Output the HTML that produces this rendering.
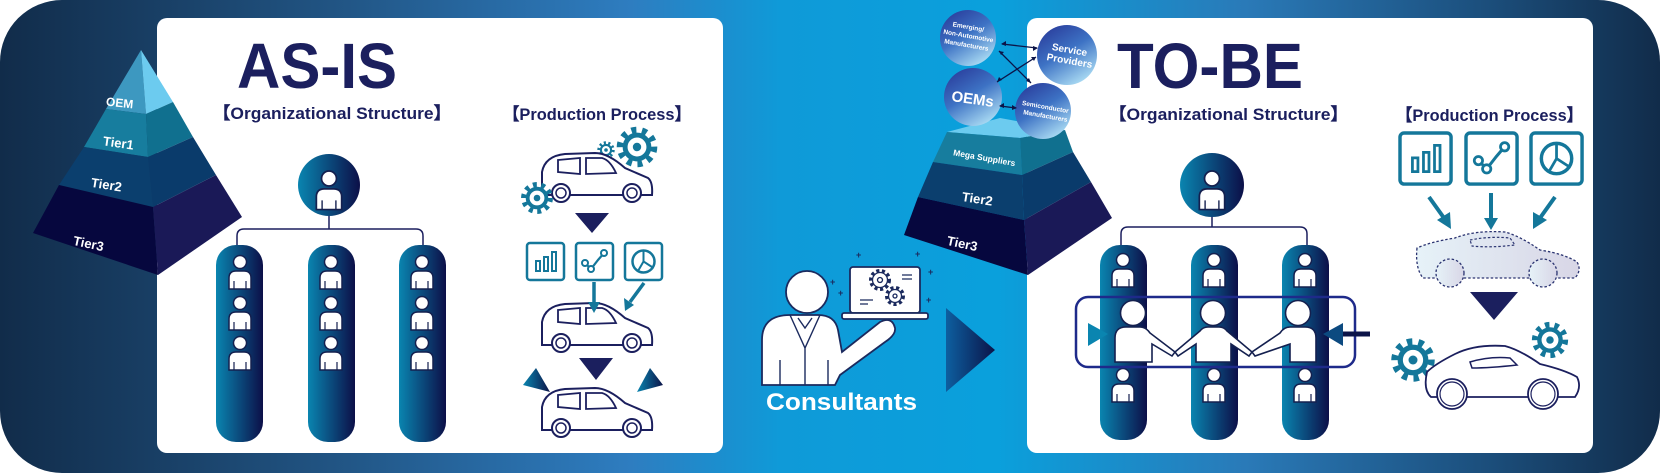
<!DOCTYPE html>
<html><head><meta charset="utf-8"><style>
html,body{margin:0;padding:0;background:#fff;}
svg{display:block;}
text{font-family:"Liberation Sans",sans-serif;font-weight:bold;}
</style></head><body>
<svg width="1660" height="473" viewBox="0 0 1660 473" xmlns="http://www.w3.org/2000/svg">
<defs>
<linearGradient id="bg" x1="0" y1="0" x2="1" y2="0">
<stop offset="0" stop-color="#112c4a"/><stop offset="0.2" stop-color="#215483"/><stop offset="0.38" stop-color="#2e7dc0"/><stop offset="0.47" stop-color="#0f9ad8"/><stop offset="0.6" stop-color="#0aa0dc"/><stop offset="0.75" stop-color="#2a7ab8"/><stop offset="0.9" stop-color="#1b4d7a"/><stop offset="1" stop-color="#112c4a"/>
</linearGradient>
<linearGradient id="col" x1="0" y1="0" x2="1" y2="0"><stop offset="0" stop-color="#0a85b0"/><stop offset="1" stop-color="#0c0f48"/></linearGradient>
<linearGradient id="tri" x1="0" y1="0" x2="1" y2="0"><stop offset="0" stop-color="#0d5fa0"/><stop offset="1" stop-color="#0c1448"/></linearGradient>
<linearGradient id="wedge" x1="0" y1="0" x2="1" y2="0"><stop offset="0" stop-color="#0a85b0"/><stop offset="1" stop-color="#0c1448"/></linearGradient>
<linearGradient id="bub" x1="0.2" y1="0" x2="0.8" y2="1"><stop offset="0" stop-color="#2a3d9c"/><stop offset="0.45" stop-color="#3d72c4"/><stop offset="1" stop-color="#b5e6f8"/></linearGradient>
<linearGradient id="ghost" x1="0" y1="0" x2="1" y2="0"><stop offset="0" stop-color="#e6f2f8"/><stop offset="1" stop-color="#d8d6e6"/></linearGradient>
<g id="p"><circle cx="0" cy="-10" r="6.5" fill="#fff" stroke="#14204f" stroke-width="1.5"/><path d="M-11,17 V6 Q-11,-1 -4,-1 H4 Q11,-1 11,6 V17 Z" fill="#fff" stroke="#14204f" stroke-width="1.5"/><path d="M-6,9 V17 M6,9 V17" stroke="#14204f" stroke-width="1.2"/></g>
<g id="van"><path d="M2,45 L2,22 Q5,6 25,4 L55,3 Q68,3 85,18 L108,28 Q113,32 112,45 Z" fill="#fff" stroke="#1b1f5e" stroke-width="2"/><path d="M18,10 L40,8 L40,24 L18,22 Z M46,8 L62,8 Q70,10 76,23 L46,24 Z" fill="none" stroke="#1b1f5e" stroke-width="1.8"/><circle cx="21" cy="43" r="9" fill="#fff" stroke="#1b1f5e" stroke-width="2"/><circle cx="21" cy="43" r="5" fill="none" stroke="#1b1f5e" stroke-width="1.5"/><circle cx="92" cy="43" r="9" fill="#fff" stroke="#1b1f5e" stroke-width="2"/><circle cx="92" cy="43" r="5" fill="none" stroke="#1b1f5e" stroke-width="1.5"/></g>
<g id="gear"><circle r="12" fill="none" stroke="#14779a" stroke-width="5" stroke-dasharray="3.5 4"/><circle r="8.5" fill="#fff" stroke="#14779a" stroke-width="3.5"/><circle r="3" fill="#14779a"/></g>
<g id="b1"><rect x="0" y="0" width="37" height="37" rx="3" fill="#fff" stroke="#14779a" stroke-width="2.5"/><path d="M9,28 V18 H13 V28 Z M17,28 V14 H21 V28 Z M25,28 V9 H29 V28 Z" fill="none" stroke="#14779a" stroke-width="2"/></g>
<g id="b2"><rect x="0" y="0" width="37" height="37" rx="3" fill="#fff" stroke="#14779a" stroke-width="2.5"/><path d="M9,20 L15,26 L22,17 L28,10" fill="none" stroke="#14779a" stroke-width="2.2"/><circle cx="9" cy="20" r="3" fill="#fff" stroke="#14779a" stroke-width="2"/><circle cx="15" cy="26" r="3" fill="#fff" stroke="#14779a" stroke-width="2"/><circle cx="28" cy="10" r="3" fill="#fff" stroke="#14779a" stroke-width="2"/></g>
<g id="b3"><rect x="0" y="0" width="37" height="37" rx="3" fill="#fff" stroke="#14779a" stroke-width="2.5"/><circle cx="18.5" cy="18.5" r="11" fill="none" stroke="#14779a" stroke-width="2.5"/><path d="M18.5,7.5 V18.5 L27,24 M18.5,18.5 L13,28" fill="none" stroke="#14779a" stroke-width="2"/></g>
</defs>

<rect x="0" y="0" width="1660" height="473" rx="62" fill="url(#bg)"/>
<rect x="157" y="18" width="566" height="435" rx="10" fill="#fff"/>
<rect x="1027" y="18" width="566" height="435" rx="10" fill="#fff"/>

<!-- Left pyramid -->
<polygon points="141,50 106,109 146,114" fill="#3d98c0"/>
<polygon points="141,50 146,114 173,102" fill="#6ccbef"/>
<polygon points="106,109 146,114 148,157 84,147" fill="#177d9e"/>
<polygon points="146,114 173,102 193,137 148,157" fill="#10708f"/>
<polygon points="84,147 148,157 153,207 59,185" fill="#0b3f6e"/>
<polygon points="148,157 193,137 216,175 153,207" fill="#0a3b6b"/>
<polygon points="59,185 153,207 158,275 33,233" fill="#06073e"/>
<polygon points="153,207 216,175 242,217 158,275" fill="#1a1957"/>
<text x="106" y="107" font-size="12" fill="#fff" transform="rotate(6 120 103)">OEM</text>
<text x="103" y="147" font-size="13" fill="#fff" transform="rotate(8 115 143)">Tier1</text>
<text x="91" y="189" font-size="13" fill="#fff" transform="rotate(9 105 185)">Tier2</text>
<text x="73" y="248" font-size="13" fill="#fff" transform="rotate(12 88 244)">Tier3</text>

<!-- AS-IS -->
<text x="237" y="88" font-size="64" fill="#1b1f5e" textLength="160" lengthAdjust="spacingAndGlyphs">AS-IS</text>
<text x="213" y="119" font-size="17" fill="#1b1f5e" textLength="238" lengthAdjust="spacingAndGlyphs">【Organizational Structure】</text>
<text x="503" y="120" font-size="17" fill="#1b1f5e" textLength="188" lengthAdjust="spacingAndGlyphs">【Production Process】</text>

<!-- left org -->
<path d="M329,215 V229 M237,250 V236 Q237,229 244,229 H416 Q423,229 423,236 V250" fill="none" stroke="#1b1f5e" stroke-width="1.5"/>
<ellipse cx="329" cy="185" rx="31" ry="31" fill="url(#col)"/>
<g transform="translate(329,190) scale(1.15)"><use href="#p"/></g>
<rect x="216" y="245" width="47" height="197" rx="20" fill="url(#col)"/>
<rect x="308" y="245" width="47" height="197" rx="20" fill="url(#col)"/>
<rect x="399" y="245" width="47" height="197" rx="20" fill="url(#col)"/>
<use href="#p" x="240" y="272"/><use href="#p" x="240" y="313"/><use href="#p" x="240" y="353"/>
<use href="#p" x="331" y="272"/><use href="#p" x="331" y="313"/><use href="#p" x="331" y="353"/>
<use href="#p" x="422" y="272"/><use href="#p" x="422" y="313"/><use href="#p" x="422" y="353"/>

<!-- left production -->
<use href="#gear" transform="translate(606,150) scale(0.6)"/>
<use href="#van" x="540" y="150"/>
<use href="#gear" transform="translate(637,147) scale(1.4)"/>
<use href="#gear" transform="translate(537,198) scale(1.1)"/>
<polygon points="575,213 609,213 592,233" fill="#1b1f5e"/>
<use href="#b1" x="527" y="243"/><use href="#b2" x="576" y="243"/><use href="#b3" x="625" y="243"/>
<use href="#van" x="540" y="300"/>
<path d="M594,282 V305" stroke="#14779a" stroke-width="3.5"/><polygon points="588,302 600,302 594,313" fill="#14779a"/>
<path d="M644,283 L630,302" stroke="#14779a" stroke-width="3.5"/><polygon points="624,298 634,305 625,311" fill="#14779a"/>
<polygon points="579,358 613,358 596,380" fill="#1b1f5e"/>
<polygon points="536,368 523,385 550,392 " fill="url(#wedge)"/>
<polygon points="650,368 663,385 637,392" fill="url(#wedge)"/>
<use href="#van" x="540" y="385"/>

<!-- consultant -->
<g fill="#fff" stroke="#1b2a5e" stroke-width="1.8">
<path d="M762,385 V340 Q762,315 790,315 H818 Q835,315 838,330 L842,352 L880,322 Q892,316 895,328 Q896,335 885,342 L840,375 L835,385 Z"/>
<circle cx="807" cy="292" r="21"/>
<path d="M790,315 L805,348 L820,315 M798,318 L805,328 L812,318 M780,360 V385 M828,360 V385 M805,348 V385" fill="none" stroke-width="1.4"/>
<rect x="850" y="267" width="70" height="46" rx="3"/>
<rect x="842" y="313" width="86" height="6" rx="2"/>
</g>
<g transform="translate(880,280)"><circle r="9" fill="none" stroke="#1b2a5e" stroke-width="4" stroke-dasharray="3 2.5"/><circle r="7.5" fill="#fff" stroke="#1b2a5e" stroke-width="1.3"/><circle r="2.5" fill="none" stroke="#1b2a5e" stroke-width="1.3"/></g>
<g transform="translate(895,296)"><circle r="8" fill="none" stroke="#1b2a5e" stroke-width="4" stroke-dasharray="3 2.5"/><circle r="6.5" fill="#fff" stroke="#1b2a5e" stroke-width="1.3"/><circle r="2" fill="none" stroke="#1b2a5e" stroke-width="1.3"/></g>
<path d="M860,300 H873 M860,304 H868 M902,275 H912 M902,279 H912" stroke="#1b2a5e" stroke-width="1.2"/>
<g fill="#1b2a5e" font-size="9"><text x="856" y="258">+</text><text x="915" y="257">+</text><text x="928" y="275">+</text><text x="830" y="285">+</text><text x="838" y="296">+</text><text x="926" y="303">+</text></g>
<text x="766" y="410" font-size="24" fill="#fff" textLength="151" lengthAdjust="spacingAndGlyphs">Consultants</text>
<polygon points="946,308 995,350 946,392" fill="url(#tri)"/>

<!-- right pyramid -->
<polygon points="947,132 1020,138 1065,130 1000,118" fill="#6ccbef"/>
<polygon points="947,132 1020,138 1022,175 933,162" fill="#177d9e"/>
<polygon points="1020,138 1065,130 1073,152 1022,175" fill="#10708f"/>
<polygon points="933,162 1022,175 1024,220 918,197" fill="#0b3f6e"/>
<polygon points="1022,175 1073,152 1091,182 1024,220" fill="#0a3b6b"/>
<polygon points="918,197 1024,220 1028,275 904,235" fill="#06073e"/>
<polygon points="1024,220 1091,182 1112,218 1028,275" fill="#1a1957"/>
<text x="953" y="160" font-size="8.5" fill="#fff" transform="rotate(10 980 157)">Mega Suppliers</text>
<text x="962" y="203" font-size="13" fill="#fff" transform="rotate(9 975 198)">Tier2</text>
<text x="947" y="248" font-size="13" fill="#fff" transform="rotate(12 962 243)">Tier3</text>

<!-- bubbles -->
<circle cx="968" cy="38" r="28" fill="url(#bub)"/>
<circle cx="1067" cy="55" r="30" fill="url(#bub)"/>
<circle cx="973" cy="97" r="29" fill="url(#bub)"/>
<circle cx="1043" cy="111" r="28" fill="url(#bub)"/>
<g stroke="#0c1448" stroke-width="1.3" fill="none">
<path d="M1002,44 L1037,48"/><path d="M999,51 L1031,83"/><path d="M1036,57 L997,82"/><path d="M1000,106 L1016,108"/>
</g>
<g fill="#0c1448">
<polygon points="1001,44 1006,41 1006,46"/><polygon points="1038,48 1033,46 1033,51"/>
<polygon points="999,51 1004,52 1001,55"/><polygon points="1031,83 1026,81 1029,78"/>
<polygon points="997,82 999,77 1002,80"/><polygon points="1036,57 1031,57 1034,61"/>
<polygon points="999,106 1004,103 1004,108"/><polygon points="1017,108 1012,105 1012,110"/>
</g>
<g fill="#fff" text-anchor="middle">
<text font-size="6.5" transform="translate(968,29) rotate(10)">Emerging/</text>
<text font-size="6.5" transform="translate(968,38) rotate(10)">Non-Automotive</text>
<text font-size="6.5" transform="translate(966,47) rotate(10)">Manufacturers</text>
<text font-size="10" transform="translate(1069,53) rotate(10)">Service</text>
<text font-size="10" transform="translate(1069,64) rotate(10)">Providers</text>
<text font-size="15" transform="translate(972,104) rotate(8)">OEMs</text>
<text font-size="6.5" transform="translate(1045,109) rotate(10)">Semiconductor</text>
<text font-size="6.5" transform="translate(1045,118) rotate(10)">Manufacturers</text>
</g>

<!-- TO-BE -->
<text x="1117" y="88" font-size="64" fill="#1b1f5e" textLength="186" lengthAdjust="spacingAndGlyphs">TO-BE</text>
<text x="1109" y="120" font-size="17" fill="#1b1f5e" textLength="239" lengthAdjust="spacingAndGlyphs">【Organizational Structure】</text>
<text x="1396" y="121" font-size="17" fill="#1b1f5e" textLength="187" lengthAdjust="spacingAndGlyphs">【Production Process】</text>

<!-- right org -->
<path d="M1212,215 V227 M1121,250 V234 Q1121,227 1128,227 H1300 Q1307,227 1307,234 V250" fill="none" stroke="#1b1f5e" stroke-width="1.5"/>
<circle cx="1212" cy="185" r="32" fill="url(#col)"/>
<g transform="translate(1212,190) scale(1.15)"><use href="#p"/></g>
<rect x="1100" y="245" width="47" height="195" rx="20" fill="url(#col)"/>
<rect x="1191" y="245" width="47" height="195" rx="20" fill="url(#col)"/>
<rect x="1282" y="245" width="47" height="195" rx="20" fill="url(#col)"/>
<use href="#p" x="1123" y="270"/><use href="#p" x="1214" y="270"/><use href="#p" x="1305" y="270"/>
<use href="#p" x="1123" y="385"/><use href="#p" x="1214" y="385"/><use href="#p" x="1305" y="385"/>
<rect x="1076" y="297" width="279" height="70" rx="12" fill="none" stroke="#1e2a8a" stroke-width="2.5"/>
<g fill="#fff" stroke="#14204f" stroke-width="1.6">
<path d="M1115,362 V338 Q1115,327 1126,327 H1140 Q1146,327 1150,333 L1175,352 L1172,356 L1152,344 V362 Z"/>
<path d="M1196,362 V344 L1178,356 L1175,352 L1200,331 Q1203,327 1208,327 H1219 Q1224,327 1227,331 L1252,352 L1249,356 L1231,344 V362 Z"/>
<path d="M1290,362 V344 L1255,356 L1252,352 L1280,333 Q1284,327 1290,327 H1305 Q1316,327 1316,338 V362 Z"/>
<circle cx="1133" cy="313" r="12.5"/><circle cx="1213" cy="313" r="12.5"/><circle cx="1298" cy="313" r="12.5"/>
</g>
<path d="M1060,334 H1092" stroke="url(#wedge)" stroke-width="5"/><polygon points="1088,323 1108,334 1088,346" fill="#0a85b0"/>
<path d="M1340,334 H1370" stroke="#0c1448" stroke-width="5"/><polygon points="1343,323 1323,334 1343,346" fill="#0c4a80"/>

<!-- right production -->
<use href="#b1" transform="translate(1400,133) scale(1.38)"/>
<use href="#b2" transform="translate(1466,133) scale(1.38)"/>
<use href="#b3" transform="translate(1531,133) scale(1.38)"/>
<path d="M1429,197 L1444,218" stroke="#14779a" stroke-width="4"/><polygon points="1437,220 1450,212 1451,229" fill="#14779a"/>
<path d="M1491,193 V220" stroke="#14779a" stroke-width="4"/><polygon points="1484,218 1498,218 1491,230" fill="#14779a"/>
<path d="M1555,197 L1540,218" stroke="#14779a" stroke-width="4"/><polygon points="1533,212 1547,220 1533,229" fill="#14779a"/>
<g transform="translate(1415,228)">
<path d="M2,20 Q0,40 8,50 H160 Q167,42 162,34 Q150,26 125,22 Q105,8 90,4 Q60,2 40,10 Q15,14 2,20 Z" fill="url(#ghost)" stroke="#2a3370" stroke-width="1.3" stroke-dasharray="2.5 2"/>
<path d="M55,12 Q75,8 95,10 L100,17 Q75,20 57,18 Z" fill="none" stroke="#2a3370" stroke-width="1.2" stroke-dasharray="2.5 2"/>
<circle cx="35" cy="45" r="14" fill="url(#ghost)" stroke="#2a3370" stroke-width="1.3" stroke-dasharray="2.5 2"/>
<circle cx="128" cy="45" r="14" fill="url(#ghost)" stroke="#2a3370" stroke-width="1.3" stroke-dasharray="2.5 2"/>
</g>
<polygon points="1470,292 1518,292 1494,320" fill="#1b1f5e"/>
<use href="#gear" transform="translate(1413,360) scale(1.5)"/>
<use href="#gear" transform="translate(1550,340) scale(1.25)"/>
<g transform="translate(1415,342)">
<path d="M12,30 Q8,48 16,55 H160 Q167,45 162,35 Q150,28 125,22 Q105,8 90,4 Q60,2 40,12 Q20,22 12,30 Z" fill="#fff" stroke="#1b1f5e" stroke-width="1.8"/>
<path d="M55,20 Q75,14 95,16 L102,23 Q75,26 57,26 Z" fill="none" stroke="#1b1f5e" stroke-width="1.5"/>
<circle cx="37" cy="52" r="15" fill="#fff" stroke="#1b1f5e" stroke-width="1.8"/><circle cx="37" cy="52" r="12" fill="none" stroke="#1b1f5e" stroke-width="1.2"/>
<circle cx="128" cy="52" r="15" fill="#fff" stroke="#1b1f5e" stroke-width="1.8"/><circle cx="128" cy="52" r="12" fill="none" stroke="#1b1f5e" stroke-width="1.2"/>
</g>
</svg>
</body></html>
